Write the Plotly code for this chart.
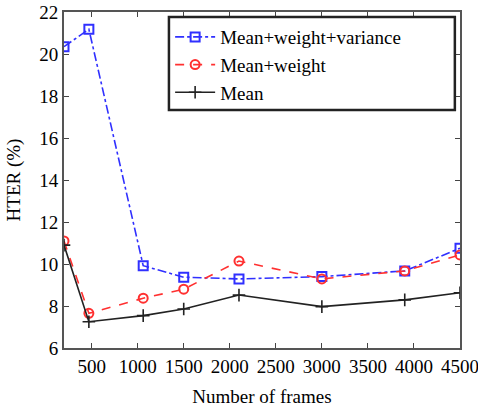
import plotly.graph_objects as go

frames = [200, 470, 1060, 1500, 2100, 3000, 3900, 4500]
mwv = [20.35, 21.18, 9.92, 9.37, 9.29, 9.40, 9.67, 10.75]
mw = [11.1, 7.65, 8.37, 8.80, 10.14, 9.29, 9.67, 10.43]
mean = [10.9, 7.25, 7.54, 7.86, 8.52, 7.97, 8.29, 8.63]

x_ticks = [500, 1000, 1500, 2000, 2500, 3000, 3500, 4000, 4500]
y_ticks = [6, 8, 10, 12, 14, 16, 18, 20, 22]

font = "Times New Roman"
fs = 19

fig = go.Figure()
fig.add_trace(go.Scatter(x=frames, y=mwv, name="Mean+weight+variance", mode="lines+markers",
                         line=dict(color="#3030ff", width=1.6, dash="dashdot"),
                         marker=dict(symbol="square-open", size=9, color="#3030ff", line=dict(width=2))))
fig.add_trace(go.Scatter(x=frames, y=mw, name="Mean+weight", mode="lines+markers",
                         line=dict(color="#ff3030", width=1.6, dash="dash"),
                         marker=dict(symbol="circle-open", size=9, color="#ff3030", line=dict(width=2))))
fig.add_trace(go.Scatter(x=frames, y=mean, name="Mean", mode="lines+markers",
                         line=dict(color="#222222", width=1.6),
                         marker=dict(symbol="cross-thin-open", size=9, color="#222222", line=dict(width=1.6, color="#222222"))))

# legend frame (wider than plotly's auto box, as in the reference)
fig.add_shape(type="rect", xref="paper", yref="paper", x0=0.265, x1=0.987, y0=0.708, y1=0.985,
              fillcolor="white", line=dict(color="#222222", width=2.5), layer="above")

fig.update_layout(
    width=478, height=407,
    margin=dict(l=64, r=18, t=12, b=59),
    paper_bgcolor="white", plot_bgcolor="white",
    font=dict(family=font, size=fs, color="black"),
    showlegend=True,
    legend=dict(x=0.268, y=0.982, xanchor="left", yanchor="top",
                bgcolor="rgba(0,0,0,0)", borderwidth=0,
                font=dict(family=font, size=fs), tracegroupgap=0,
                itemwidth=40),
    xaxis=dict(range=[200, 4500], tickvals=x_ticks, ticktext=[str(v) for v in x_ticks],
               ticks="inside", ticklen=5, tickcolor="#444", showgrid=False, zeroline=False,
               showline=True, linecolor="#555", linewidth=2, mirror="ticks", automargin=False,
               ticklabeloverflow="allow",
               title=dict(text="Number of frames", font=dict(family=font, size=fs), standoff=14),
               tickfont=dict(family=font, size=fs)),
    yaxis=dict(range=[6, 22], tickvals=y_ticks, ticktext=[str(v) for v in y_ticks],
               ticks="inside", ticklen=5, tickcolor="#444", showgrid=False, zeroline=False,
               showline=True, linecolor="#555", linewidth=2, mirror="ticks", automargin=False,
               ticklabeloverflow="allow",
               title=dict(text="HTER (%)", font=dict(family=font, size=fs), standoff=14),
               tickfont=dict(family=font, size=fs)),
)

fig.write_html("out.html")
